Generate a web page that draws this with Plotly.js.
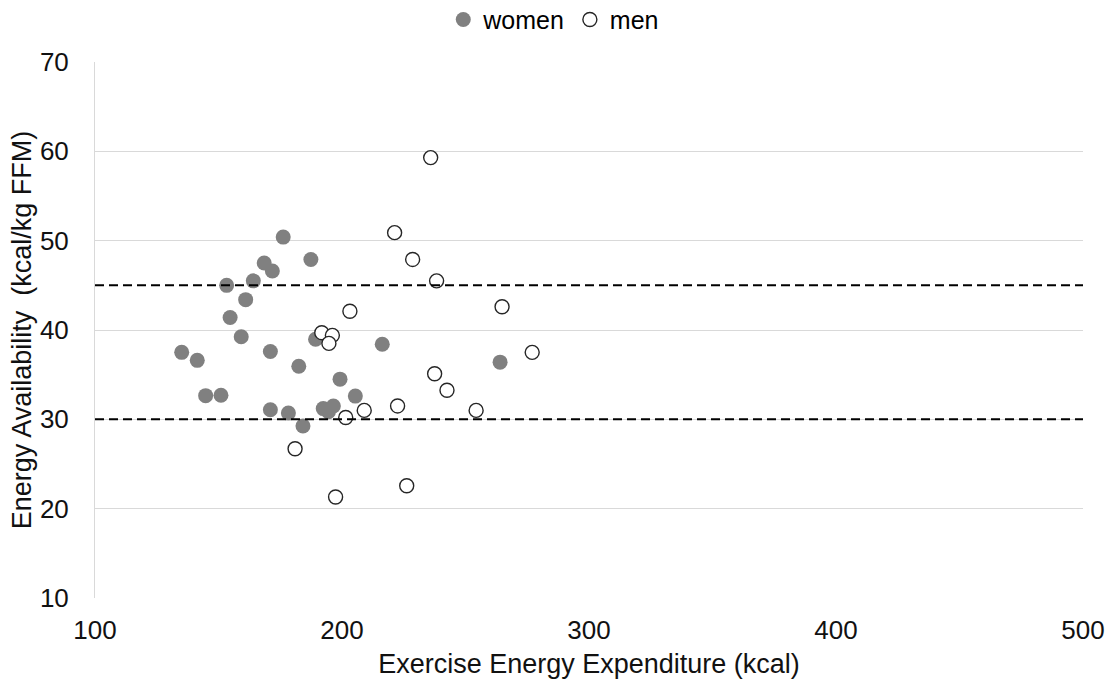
<!DOCTYPE html>
<html>
<head>
<meta charset="utf-8">
<script src="https://cdn.plot.ly/plotly-3.0.1.min.js"></script>
<style>html,body{margin:0;padding:0;background:#fff}#chart{width:1112px;height:681px}</style>
</head>
<body>
<div id="chart"></div>
<script>
const womenX = [176.2, 187.4, 168.5, 171.8, 164.1, 153.3, 161.0, 154.7, 159.2, 135.1, 141.4, 171.0, 182.5, 189.3, 199.2, 144.8, 151.0, 171.0, 178.3, 184.2, 205.4, 192.4, 196.5, 194.5, 216.3, 264.0];
const womenY = [50.4, 47.9, 47.5, 46.6, 45.5, 45.0, 43.4, 41.4, 39.25, 37.5, 36.6, 37.6, 35.95, 38.96, 34.5, 32.65, 32.7, 31.08, 30.7, 29.25, 32.6, 31.2, 31.5, 30.85, 38.4, 36.4];
const menX = [235.9, 221.3, 228.6, 238.3, 203.2, 264.8, 191.8, 196.1, 194.7, 277.0, 237.5, 242.5, 222.5, 209.0, 254.3, 201.5, 181.0, 226.2, 197.4];
const menY = [59.3, 50.9, 47.9, 45.5, 42.1, 42.6, 39.7, 39.4, 38.5, 37.5, 35.1, 33.25, 31.5, 31.0, 31.0, 30.2, 26.7, 22.56, 21.3];
const thresholds = [30, 45];
const xTicks = [100, 200, 300, 400, 500];
const yTicks = [10, 20, 30, 40, 50, 60, 70];

const traces = [
  {x: womenX, y: womenY, type: 'scatter', mode: 'markers', name: 'women',
   marker: {size: 15, color: '#808080', line: {width: 0}}},
  {x: menX, y: menY, type: 'scatter', mode: 'markers', name: 'men',
   marker: {size: 14, color: '#ffffff', line: {width: 1.4, color: '#262626'}}}
];

const shapes = thresholds.map(t => ({
  type: 'line', xref: 'paper', x0: 0, x1: 1, yref: 'y', y0: t, y1: t,
  line: {color: '#000000', width: 2, dash: '9px,5px'}
}));

const layout = {
  width: 1112, height: 681,
  margin: {l: 95, r: 29, t: 62, b: 83},
  paper_bgcolor: '#ffffff', plot_bgcolor: '#ffffff',
  font: {family: 'Liberation Sans, Arial, sans-serif', size: 26, color: '#111111'},
  showlegend: true,
  legend: {orientation: 'h', x: 0.498, xref: 'container', xanchor: 'center', y: 0.971, yref: 'container', yanchor: 'middle',
           font: {size: 25, color: '#000000'}, itemwidth: 20, tracegroupgap: 0, traceorder: 'normal'},
  xaxis: {range: [100, 500], tickvals: xTicks, ticktext: xTicks.map(String),
          showgrid: false, zeroline: false, showline: false, ticks: '',
          tickfont: {size: 26, color: '#111111'}, ticklabelstandoff: 14,
          title: {text: 'Exercise Energy Expenditure (kcal)', font: {size: 27, color: '#111111'}, standoff: 10}},
  yaxis: {range: [10, 70], tickvals: yTicks, ticktext: yTicks.map(String),
          showgrid: true, gridcolor: '#d9d9d9', gridwidth: 1, zeroline: false,
          showline: true, linecolor: '#d9d9d9', linewidth: 1, ticks: '',
          tickfont: {size: 26, color: '#111111'}, ticklabelstandoff: 20,
          title: {text: 'Energy Availability \u00a0(kcal/kg FFM)', font: {size: 27, color: '#111111'}, standoff: 0}},
  shapes: shapes
};

Plotly.newPlot('chart', traces, layout, {displayModeBar: false, staticPlot: true});
</script>
</body>
</html>
